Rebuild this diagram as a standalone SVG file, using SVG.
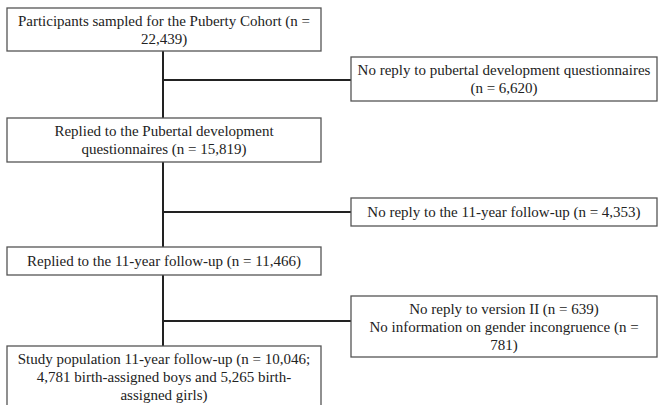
<svg xmlns="http://www.w3.org/2000/svg" width="659" height="405" viewBox="0 0 659 405">
<style>
.box{fill:#fff;stroke:#555;stroke-width:1.3}
.t{font-family:"Liberation Serif","Times New Roman",serif;font-size:15px;fill:#222;text-anchor:middle}
.c{stroke:#222;stroke-width:2;fill:none}
</style>
<rect width="659" height="405" fill="#fff"/>
<g id="connectors">
<line class="c" x1="163" y1="51" x2="163" y2="118"/>
<line class="c" x1="163" y1="80" x2="351" y2="80"/>
<line class="c" x1="163" y1="162" x2="163" y2="247"/>
<line class="c" x1="163" y1="212" x2="351" y2="212"/>
<line class="c" x1="163" y1="275" x2="163" y2="346"/>
<line class="c" x1="163" y1="321" x2="351" y2="321"/>
</g>
<g id="n1">
<rect class="box" x="7" y="8" width="314" height="43"/>
<text class="t" x="164" y="26">Participants sampled for the Puberty Cohort (n =</text>
<text class="t" x="164" y="44">22,439)</text>
</g>
<g id="x1">
<rect class="box" x="351" y="57" width="306" height="44"/>
<text class="t" x="504" y="75">No reply to pubertal development questionnaires</text>
<text class="t" x="504" y="93">(n = 6,620)</text>
</g>
<g id="n2">
<rect class="box" x="7" y="118" width="314" height="44"/>
<text class="t" x="164" y="136">Replied to the Pubertal development</text>
<text class="t" x="164" y="154">questionnaires (n = 15,819)</text>
</g>
<g id="x2">
<rect class="box" x="351" y="198" width="306" height="28"/>
<text class="t" x="504" y="217">No reply to the 11-year follow-up (n = 4,353)</text>
</g>
<g id="n3">
<rect class="box" x="7" y="247" width="314" height="28"/>
<text class="t" x="164" y="266">Replied to the 11-year follow-up (n = 11,466)</text>
</g>
<g id="x3">
<rect class="box" x="351" y="296" width="306" height="61"/>
<text class="t" x="504" y="314">No reply to version II (n = 639)</text>
<text class="t" x="504" y="332">No information on gender incongruence (n =</text>
<text class="t" x="504" y="350">781)</text>
</g>
<g id="n4">
<rect class="box" x="7" y="346" width="314" height="62"/>
<text class="t" x="164" y="364">Study population 11-year follow-up (n = 10,046;</text>
<text class="t" x="164" y="382">4,781 birth-assigned boys and 5,265 birth-</text>
<text class="t" x="164" y="400">assigned girls)</text>
</g>
</svg>
